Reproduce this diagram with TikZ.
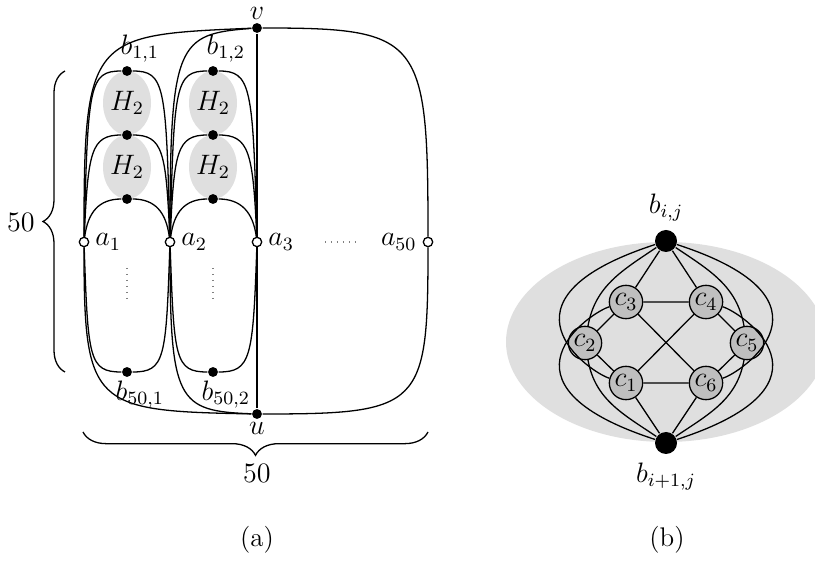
\documentclass[tikz,border=0pt]{standalone}
\usetikzlibrary{shapes.geometric,decorations.pathreplacing}
\begin{document}
\begin{tikzpicture}[x=0.015cm, y=0.015cm, line width=0.55pt,
    font=\fontsize{11.5}{14}\selectfont,
    bdot/.style={circle, fill, inner sep=0pt, minimum size=4.2pt},
    avert/.style={circle, draw, fill=white, inner sep=0pt, minimum size=4pt},
    hcell/.style={ellipse, fill=gray!25, inner sep=0pt, minimum width=0.51cm, minimum height=0.96cm},
    bignode/.style={circle, fill, inner sep=0pt, minimum size=0.33cm},
    cnode/.style={circle, draw, fill=gray!50, inner sep=0pt, minimum size=0.5cm},
    blab/.style={inner sep=0pt, label distance=1pt, xshift=5.5pt}]
    \useasboundingbox (0,0) rectangle (815,560);

    \node[hcell] (h11) at (127,457) {$H_2$};
    \node[hcell] (h21) at (127,393) {$H_2$};
    \node[hcell] (h12) at (213,457) {$H_2$};
    \node[hcell] (h22) at (213,393) {$H_2$};

    \node[bdot, label={[inner sep=1pt]above:$v$}] (v) at (257,532) {};
    \node[bdot, label={[inner sep=1pt]below:$u$}] (u) at (257,146) {};
    \node[avert, label={[label distance=-1pt]right:$a_1$}] (a1) at (84,318) {};
    \node[avert, label={[label distance=-1pt]right:$a_2$}] (a2) at (170,318) {};
    \node[avert, label={[label distance=-1pt]right:$a_3$}] (a3) at (257,318) {};
    \node[avert, label={[label distance=-1pt]left:$a_{50}$}] (a50) at (428,318) {};

    \node[bdot, label={[blab]above:$b_{1,1}$}] (b11) at (127,489) {};
    \node[bdot] (b21) at (127,425) {};
    \node[bdot] (b31) at (127,361) {};
    \node[bdot, label={[blab]below:$b_{50,1}$}] (b501) at (127,188) {};
    \node[bdot, label={[blab]above:$b_{1,2}$}] (b12) at (213,489) {};
    \node[bdot] (b22) at (213,425) {};
    \node[bdot] (b32) at (213,361) {};
    \node[bdot, label={[blab]below:$b_{50,2}$}] (b502) at (213,188) {};

    \foreach \l/\r/\k in {a1/a2/1, a2/a3/2}
        \foreach \j/\f/\g in {1/157/38, 2/91/36, 3/30/28, 50/-117/38}
            \draw (\l) .. controls +(4,\f) and +(-\g,0) .. (b\j\k)
                .. controls +(\g,0) and +(-4,\f) .. (\r);

    \draw (v) .. controls +(-167,-7) and +(0,207) .. (a1);
    \draw (v) .. controls +(-80,-6) and +(0,200) .. (a2);
    \draw (v) .. controls +(165,0) and +(0,205) .. (a50);
    \draw (v) -- (a3) -- (u);
    \draw (u) .. controls +(-165,3) and +(0,-165) .. (a1);
    \draw (u) .. controls +(-80,3) and +(0,-160) .. (a2);
    \draw (u) .. controls +(165,0) and +(0,-165) .. (a50);

    \draw[gray, dotted] (127,292) -- (127,258);
    \draw[gray, dotted] (213,292) -- (213,258);
    \draw[gray, dotted] (325,318) -- (358,318);

    \draw[decorate, decoration={brace, amplitude=0.33cm}] (65,188) -- (65,489);
    \node (nrows) at (21,338) {$50$};
    \draw[decorate, decoration={brace, mirror, amplitude=0.35cm}] (83,128) -- (428,128);
    \node (ncols) at (257,87) {$50$};
    \node (capa) at (257,20) {(a)};

    \fill[gray!25] (666,218) ellipse [x radius=2.4cm, y radius=1.5cm];
    \node[bignode, label=above:$b_{i,j}$] (top) at (666,319) {};
    \node[bignode, label=below:$b_{i+1,j}$] (bot) at (666,117) {};
    \node[cnode] (c1) at (626,177) {$c_1$};
    \node[cnode] (c2) at (585,217) {$c_2$};
    \node[cnode] (c3) at (626,258) {$c_3$};
    \node[cnode] (c4) at (706,258) {$c_4$};
    \node[cnode] (c5) at (747,217) {$c_5$};
    \node[cnode] (c6) at (706,177) {$c_6$};

    \draw (top) -- (c3) -- (c2) -- (c1) -- (bot) -- (c6) -- (c5) -- (c4) -- (top);
    \draw (c3) -- (c4) (c1) -- (c6) (c3) -- (c6) (c1) -- (c4);
    \draw (top) to[out=214, in=80] (c2) to[out=-80, in=146] (bot);
    \draw (top) to[out=-34, in=100] (c5) to[out=-100, in=34] (bot);
    \draw (top) .. controls +(198:192) and +(164:36) .. (c1);
    \draw (c3) .. controls +(196:36) and +(162:192) .. (bot);
    \draw (top) .. controls +(-18:192) and +(16:36) .. (c6);
    \draw (c4) .. controls +(-16:36) and +(18:192) .. (bot);
    \node (capb) at (667,20) {(b)};
\end{tikzpicture}
\end{document}
